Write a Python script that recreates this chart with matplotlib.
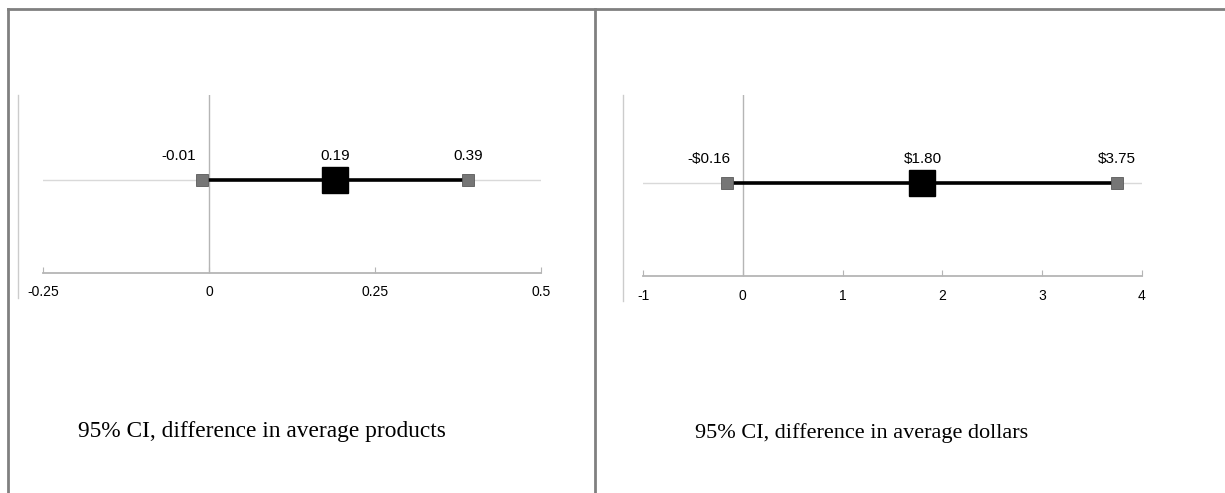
import matplotlib.pyplot as plt
from matplotlib.lines import Line2D

# confidence intervals: lower, estimate, upper
products_ci = [-0.01, 0.19, 0.39]
products_labels = ["-0.01", "0.19", "0.39"]
products_ticks = [-0.25, 0, 0.25, 0.5]
products_ticklabels = ["-0.25", "0", "0.25", "0.5"]

dollars_ci = [-0.16, 1.80, 3.75]
dollars_labels = ["-$0.16", "$1.80", "$3.75"]
dollars_ticks = [-1, 0, 1, 2, 3, 4]
dollars_ticklabels = ["-1", "0", "1", "2", "3", "4"]

captions = ["95% CI, difference in average products", "95% CI, difference in average dollars"]

W, H = 1225, 493
fig = plt.figure(figsize=(W / 100, H / 100), dpi=100)
plt.rcParams['font.family'] = ['Liberation Sans', 'DejaVu Sans']


def px(x0, y0, x1, y1):
    # pixel box -> figure fraction rect
    return [x0 / W, 1 - y1 / H, (x1 - x0) / W, (y1 - y0) / H]


def fline(xs, ys, color, lw):
    fig.add_artist(Line2D([x / W for x in xs], [1 - y / H for y in ys],
                          color=color, lw=lw, transform=fig.transFigure))


def ci_panel(rect, ci, labels, ticks, ticklabels, ytop):
    ax = fig.add_axes(rect)
    lo, mid, hi = ci
    ax.set_xlim(ticks[0], ticks[-1])
    ax.set_ylim(-1, ytop)
    ax.axhline(0, color='#d9d9d9', lw=1, zorder=1)
    ax.axvline(0, color='#b5b5b5', lw=1, zorder=1)
    ax.plot([lo, hi], [0, 0], color='black', lw=2.6, zorder=2)
    ax.plot([lo, hi], [0, 0], 's', ms=8.5, color='#767676', mec='#5a5a5a', mew=0.6, zorder=3)
    ax.plot([mid], [0], 's', ms=18.5, color='black', zorder=4)
    ax.annotate(labels[0], (0, 0), xytext=(-9, 12), textcoords='offset points',
                ha='right', va='bottom', fontsize=11)
    ax.annotate(labels[1], (mid, 0), xytext=(0, 12), textcoords='offset points',
                ha='center', va='bottom', fontsize=11)
    ax.annotate(labels[2], (hi, 0), xytext=(0, 12), textcoords='offset points',
                ha='center', va='bottom', fontsize=11)
    for s in ['top', 'right', 'left']:
        ax.spines[s].set_visible(False)
    ax.spines['bottom'].set_color('#b5b5b5')
    ax.spines['bottom'].set_linewidth(1.3)
    ax.set_yticks([])
    ax.set_xticks(ticks)
    ax.set_xticklabels(ticklabels, fontsize=10)
    ax.tick_params(axis='x', direction='in', length=4, color='#b5b5b5', pad=9)
    ax.patch.set_alpha(0)
    return ax


ci_panel(px(43, 95, 541, 273), products_ci, products_labels,
         products_ticks, products_ticklabels, 85 / 93)
ci_panel(px(643, 95, 1142, 276), dollars_ci, dollars_labels,
         dollars_ticks, dollars_ticklabels, 88 / 93)

# frame lines
fline([8, W], [9, 9], '#808080', 2)
fline([8, 8], [9, H], '#808080', 2)
fline([595, 595], [9, H], '#808080', 2)
fline([18, 18], [95, 298], '#cccccc', 1)
fline([623, 623], [95, 301], '#cccccc', 1)

fig.text(262 / W, 1 - 432 / H, captions[0], ha='center', va='center',
         fontsize=16.8, family=['Liberation Serif', 'DejaVu Serif'])
fig.text(862 / W, 1 - 433 / H, captions[1], ha='center', va='center',
         fontsize=16, family=['Liberation Serif', 'DejaVu Serif'])

fig.savefig('out.png', dpi=100)
